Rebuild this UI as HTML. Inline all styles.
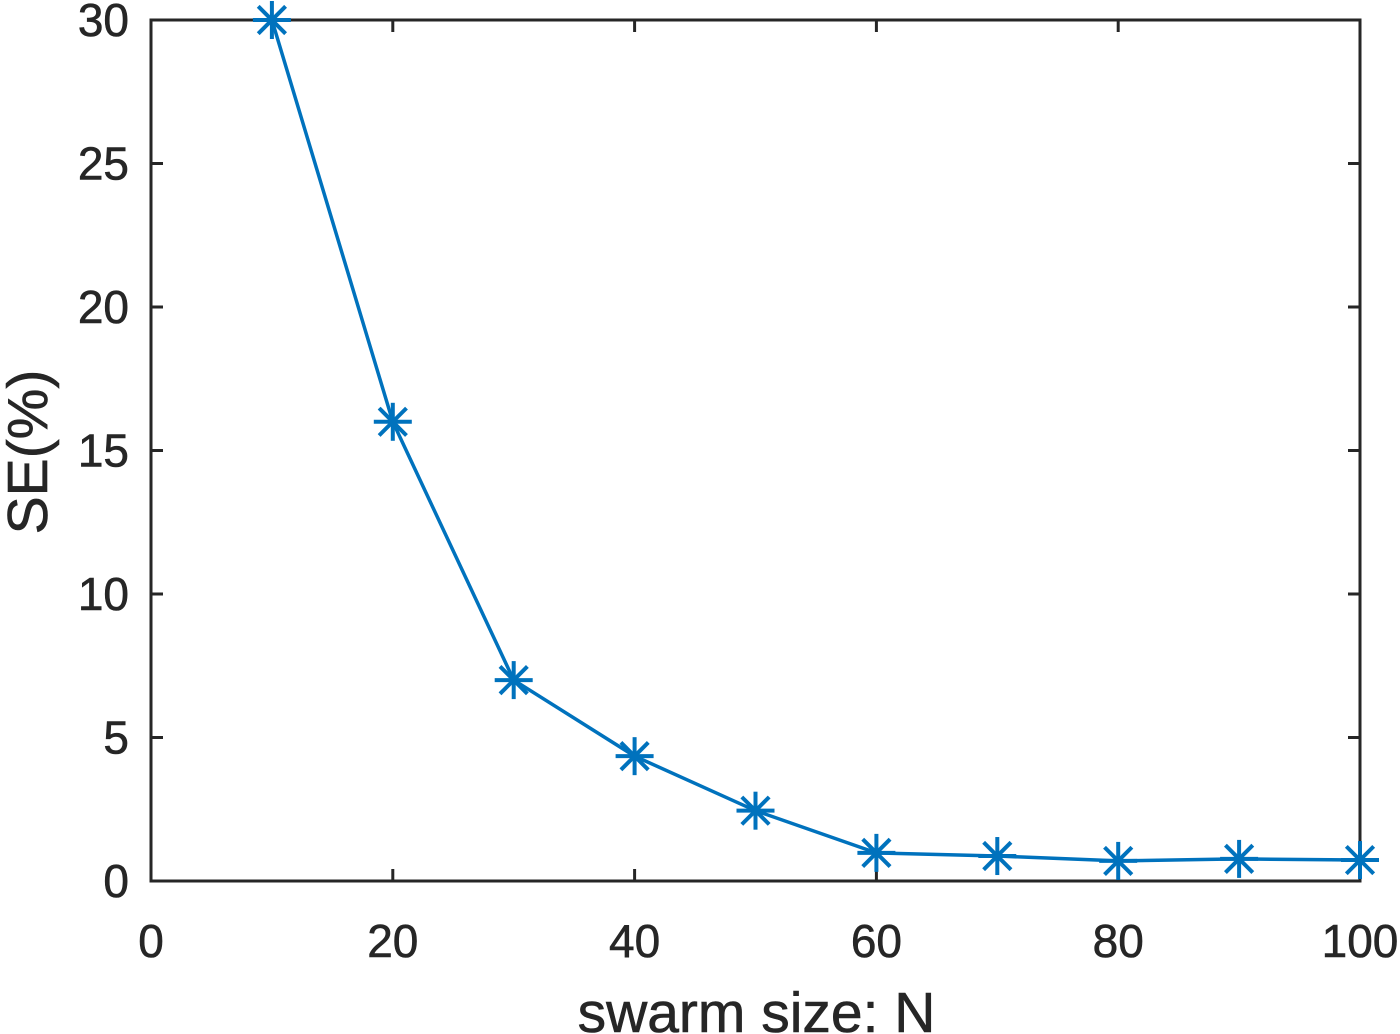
<!DOCTYPE html>
<html><head><meta charset="utf-8"><style>
html,body{margin:0;padding:0;background:#fff;}
svg{display:block;font-family:"Liberation Sans",Arial,sans-serif;}
</style></head><body>
<svg id="chart" width="1400" height="1034" viewBox="0 0 1400 1034" xmlns="http://www.w3.org/2000/svg"></svg>
<script>
const xValues=[10,20,30,40,50,60,70,80,90,100];
const seValues=[30,16,7,4.35,2.45,0.98,0.87,0.7,0.77,0.73];
const xTicks=[0,20,40,60,80,100];
const yTicks=[0,5,10,15,20,25,30];
const L=151,R=1360,T=20,B=881;
const sx=v=>L+(v-0)/(100-0)*(R-L);
const sy=v=>B-(v-0)/(30-0)*(B-T);
const svg=document.getElementById('chart');
const NS='http://www.w3.org/2000/svg';
function mk(tag,attrs,parent){const e=document.createElementNS(NS,tag);for(const k in attrs)e.setAttribute(k,attrs[k]);(parent||svg).appendChild(e);return e;}
const bg=mk('rect',{x:L,y:T,width:R-L,height:B-T,fill:'#fff'});


const tc='#262626';
xTicks.forEach(v=>{
  const x=sx(v);
  const t1=mk('line',{x1:x,y1:B,x2:x,y2:B-12,stroke:tc,'stroke-width':3});
  
  
  const t2=mk('line',{x1:x,y1:T,x2:x,y2:T+12,stroke:tc,'stroke-width':3});
  
  
  const tx=mk('text',{x:x,y:957,'font-size':46,'text-anchor':'middle',fill:tc,stroke:tc,'stroke-width':0.6});
  tx.textContent=v;
  
  
});
yTicks.forEach(v=>{
  const y=sy(v);
  const t1=mk('line',{x1:L,y1:y,x2:L+12,y2:y,stroke:tc,'stroke-width':3});
  
  
  const t2=mk('line',{x1:R,y1:y,x2:R-12,y2:y,stroke:tc,'stroke-width':3});
  
  
  const tx=mk('text',{x:129,y:y+16,'font-size':46,'text-anchor':'end',fill:tc,stroke:tc,'stroke-width':0.6});
  tx.textContent=v;
  
  
});
const frame=mk('rect',{x:L,y:T,width:R-L,height:B-T,fill:'none',stroke:tc,'stroke-width':3});


const pts=xValues.map((v,i)=>sx(v)+','+sy(seValues[i])).join(' ');
const line=mk('polyline',{points:pts,fill:'none',stroke:'#0072BD','stroke-width':3.5});


xValues.forEach((v,i)=>{
  const cx=sx(v),cy=sy(seValues[i]),r=19,d=r*0.72;
  const g=mk('g',{stroke:'#0072BD','stroke-width':4});
  
  
  mk('line',{x1:cx-r,y1:cy,x2:cx+r,y2:cy},g);
  mk('line',{x1:cx,y1:cy-r,x2:cx,y2:cy+r},g);
  mk('line',{x1:cx-d,y1:cy-d,x2:cx+d,y2:cy+d},g);
  mk('line',{x1:cx-d,y1:cy+d,x2:cx+d,y2:cy-d},g);
});
const xl=mk('text',{x:(L+R)/2+1,y:1032,'font-size':57,'text-anchor':'middle',fill:tc,stroke:tc,'stroke-width':0.6});
xl.textContent='swarm size: N';


const yl=mk('text',{x:0,y:0,'font-size':57,'text-anchor':'middle',fill:tc,stroke:tc,'stroke-width':0.6,transform:'translate(47,452) rotate(-90)'});
yl.textContent='SE(%)';


</script>
</body></html>
